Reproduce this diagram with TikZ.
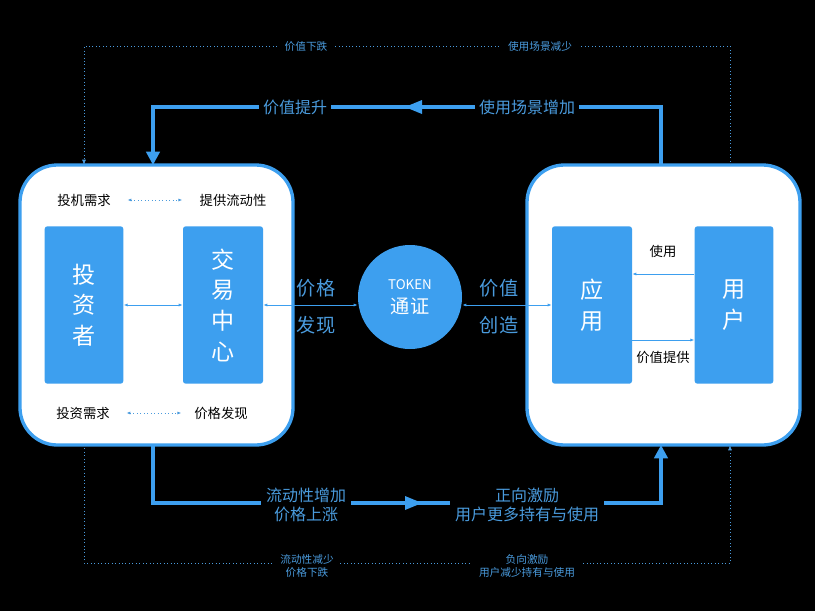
\documentclass[tikz,border=0pt]{standalone}
\usepackage{fontspec}
\setmainfont{Noto Sans CJK SC}
\usetikzlibrary{arrows.meta}
\definecolor{tblue}{HTML}{3D9FEF}
\definecolor{tlabel}{HTML}{4A9BDD}

\tikzset{
  panel/.style={draw=tblue,line width=2.5pt,fill=white,rounded corners=28pt},
  block/.style={fill=tblue,text=white,rounded corners=2pt,font=\LARGE,align=center},
  thick flow/.style={draw=tblue,line width=2.5pt},
  thin flow/.style={draw=tblue,line width=0.6pt,{Latex[length=3pt]}-{Latex[length=3pt]}},
  dot flow/.style={draw=tlabel,line width=0.6pt,dotted},
  lab/.style={fill=black,text=tlabel,inner sep=3pt,align=center},
  blab/.style={text=black,font=\normalsize}
}

\begin{document}
\begin{tikzpicture}[x=0.75pt,y=-0.75pt]
\fill[black] (0,0) rectangle (815,611);
\useasboundingbox (0,0) rectangle (815,611);

% panels
\draw[panel] (20,165) rectangle (293,445);
\draw[panel] (527,165) rectangle (800,445);

% blocks
\node[block,minimum width=59pt,minimum height=118pt] (inv) at (84,305) {投\\[1pt]资\\[1pt]者};
\node[block,minimum width=60pt,minimum height=118pt] (exc) at (223,305) {交\\[1pt]易\\[1pt]中\\[1pt]心};
\node[block,minimum width=60pt,minimum height=118pt] (app) at (592,305) {应\\[1pt]用};
\node[block,minimum width=59pt,minimum height=118pt] (usr) at (734,305) {用\\[1pt]户};
\node[circle,fill=tblue,text=white,minimum size=78pt,align=center,inner sep=0pt] (tok) at (410,297) {{\normalsize TOKEN}\\[6pt]{\Large 通证}};

% texts in panels
\node[blab] (spec) at (84,200) {投机需求};
\node[blab] (liq) at (233,200) {提供流动性};
\node[blab] (invd) at (83,413) {投资需求};
\node[blab] (pfd) at (221,413) {价格发现};
\node[blab] (use) at (663,251) {使用};
\node[blab] (vp) at (663,357) {价值提供};
\draw[dot flow,{Latex[length=3pt]}-{Latex[length=3pt]}] (spec.east) ++(12,0) -- ++(55,0);
\draw[dot flow,{Latex[length=3pt]}-{Latex[length=3pt]}] (invd.east) ++(12,0) -- ++(55,0);

% links
\draw[thin flow] (inv.east) -- (exc.west);
\draw[thin flow] (exc.east) -- (exc.east -| tok.west);
\draw[thin flow] (app.west -| tok.east) -- (app.west);
\draw[draw=tblue,line width=0.6pt,-{Latex[length=3pt]}] (usr.west |- 0,274) -- (app.east |- 0,274);
\draw[draw=tblue,line width=0.6pt,-{Latex[length=3pt]}] (app.east |- 0,340) -- (usr.west |- 0,340);
\node[text=tlabel,font=\Large] (pr) at (316,288) {价格};
\node[text=tlabel,font=\Large] (fd) at (316,325) {发现};
\node[text=tlabel,font=\Large] (va) at (499,288) {价值};
\node[text=tlabel,font=\Large] (cz) at (499,325) {创造};

% thick loops
\coordinate (tr) at (661,165);
\coordinate (tl) at (153,165);
\coordinate (br) at (661,445);
\coordinate (bl) at (153,445);
\draw[thick flow,-{Triangle[length=10pt,width=10pt]}] (tr) -- (661,107) -- (153,107) -- (tl);
\draw[thick flow,-{Triangle[length=10pt,width=10pt]}] (bl) -- (153,503) -- (661,503) -- (br);
\fill[tblue] (405,107) -- (422,100) -- (422,114) -- cycle;
\fill[tblue] (422,503) -- (405,496) -- (405,510) -- cycle;
\node[lab,font=\large] (vu) at (295,107) {价值提升};
\node[lab,font=\large] (su) at (527,107) {使用场景增加};
\node[lab,font=\large,inner sep=4pt] (lu) at (306,505) {流动性增加\\价格上涨};
\node[lab,font=\large,inner sep=4pt] (pi) at (527,505) {正向激励\\用户更多持有与使用};

% dotted loops
\coordinate (dtl) at (84,165);
\coordinate (dtr) at (730,165);
\coordinate (dbl) at (84,445);
\coordinate (dbr) at (730,445);
\draw[dot flow,-{Latex[length=4pt]}] (dtr) -- (730,46) -- (84,46) -- (dtl);
\draw[dot flow,-{Latex[length=4pt]}] (dbl) -- (84,563) -- (730,563) -- (dbr);
\node[lab,font=\footnotesize,inner sep=5pt] (vd) at (306,46) {价值下跌};
\node[lab,font=\footnotesize,inner sep=5pt] (sd) at (540,46) {使用场景减少};
\node[lab,font=\footnotesize,inner sep=5pt] (ld) at (307,566) {流动性减少\\价格下跌};
\node[lab,font=\footnotesize,inner sep=5pt] (ni) at (527,566) {负向激励\\用户减少持有与使用};
\end{tikzpicture}
\end{document}
